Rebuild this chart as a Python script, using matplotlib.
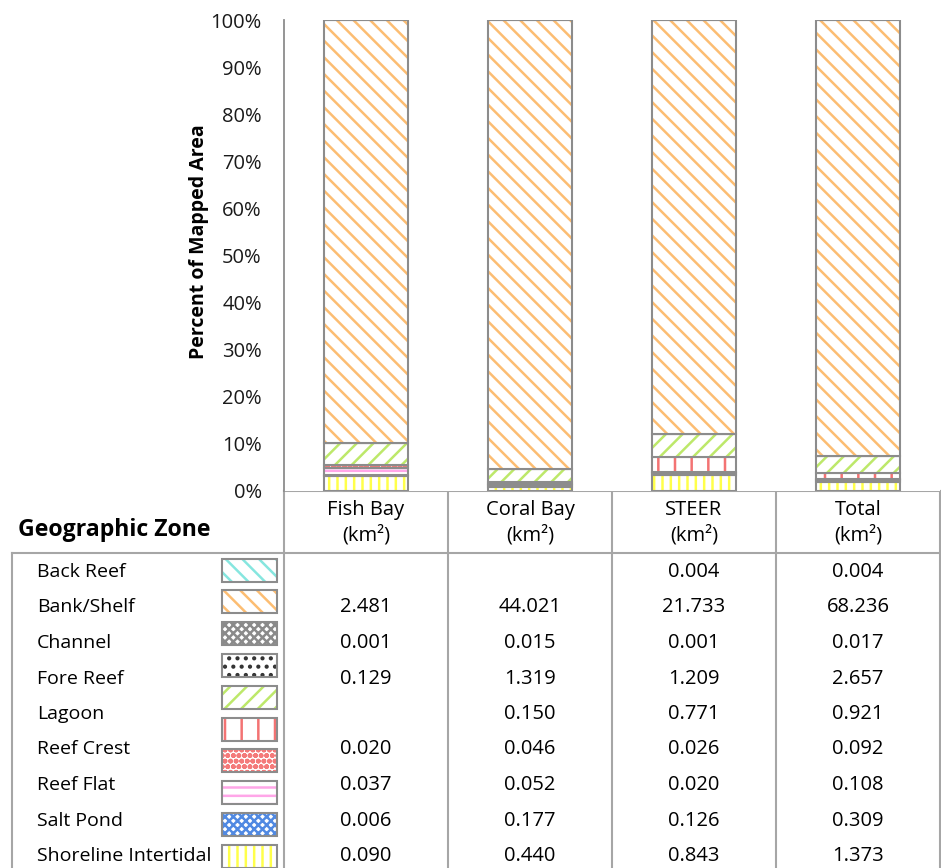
import numpy as np
import matplotlib.pyplot as plt
from matplotlib.patches import Rectangle

plt.rcParams['font.family'] = ['Open Sans', 'DejaVu Sans']
plt.rcParams['hatch.linewidth'] = 1.8

# sites (table columns / bars)
sites = ["Fish Bay", "Coral Bay", "STEER", "Total"]

# area per geographic zone in km², nan = blank cell in the table
zones = ["Back Reef", "Bank/Shelf", "Channel", "Fore Reef", "Lagoon",
         "Reef Crest", "Reef Flat", "Salt Pond", "Shoreline Intertidal"]
back_reef = [np.nan, np.nan, 0.004, 0.004]
bank_shelf = [2.481, 44.021, 21.733, 68.236]
channel = [0.001, 0.015, 0.001, 0.017]
fore_reef = [0.129, 1.319, 1.209, 2.657]
lagoon = [np.nan, 0.150, 0.771, 0.921]
reef_crest = [0.020, 0.046, 0.026, 0.092]
reef_flat = [0.037, 0.052, 0.020, 0.108]
salt_pond = [0.006, 0.177, 0.126, 0.309]
shoreline = [0.090, 0.440, 0.843, 1.373]

pct_ticks = [0, 10, 20, 30, 40, 50, 60, 70, 80, 90, 100]

areas = [back_reef, bank_shelf, channel, fore_reef, lagoon,
         reef_crest, reef_flat, salt_pond, shoreline]

# (hatch colour, hatch) per zone
styles = {
    "Back Reef": ("#86e6df", "\\\\"),
    "Bank/Shelf": ("#fcbd72", "\\\\"),
    "Channel": ("#8a8a8a", "xxxx"),
    "Fore Reef": ("#bde86a", "//"),
    "Lagoon": ("#f37373", "|"),
    "Reef Crest": ("#f47a7a", "ooo"),
    "Reef Flat": ("#ffa6e8", "--"),
    "Salt Pond": ("#5089e2", "xxxx"),
    "Shoreline Intertidal": ("#ffff4a", "||"),
}
# legend keys of the data table (Excel shows one extra dotted key)
keys = [styles["Back Reef"], styles["Bank/Shelf"], styles["Channel"],
        ("#333333", ".."), styles["Fore Reef"], styles["Lagoon"],
        styles["Reef Crest"], styles["Reef Flat"], styles["Salt Pond"],
        styles["Shoreline Intertidal"]]

W, H = 941, 868
GRID = "#a6a6a6"
EDGE = "#8c8c8c"

fig = plt.figure(figsize=(W / 100, H / 100), dpi=100)
ax = fig.add_axes([284 / W, (H - 491) / H, (940 - 284) / W, (491 - 20) / H])

data = np.array(areas, dtype=float)
totals = np.nansum(data, axis=0)
pct = np.nan_to_num(data) / totals * 100

x = np.arange(len(sites))
bottom = np.zeros(len(sites))
for i in reversed(range(len(zones))):
    col, hatch = styles[zones[i]]
    ax.bar(x, pct[i], 0.51, bottom=bottom, color="white", edgecolor=col,
           hatch=hatch, linewidth=0)
    ax.bar(x, pct[i], 0.51, bottom=bottom, fill=False, edgecolor=EDGE,
           linewidth=1.5)
    bottom += pct[i]

ax.set_xlim(-0.5, len(sites) - 0.5)
ax.set_ylim(0, 100)
ax.set_yticks(pct_ticks)
ax.set_yticklabels([f"{t}%" for t in pct_ticks])
ax.set_xticks([])
ax.tick_params(axis="y", length=0, pad=16, labelsize=14.5, labelcolor="#1a1a1a")
for s in ["top", "right", "bottom"]:
    ax.spines[s].set_visible(False)
ax.spines["left"].set_color(EDGE)
ax.spines["left"].set_linewidth(1.3)
ax.set_ylabel("Percent of Mapped Area", fontweight="bold", fontsize=14)
ax.yaxis.set_label_coords(-0.114, 0.529)

# data table drawn in pixel coordinates on an overlay
ov = fig.add_axes([0, 0, 1, 1], zorder=-1)
ov.set_xlim(0, W)
ov.set_ylim(H, 0)
ov.axis("off")

col_edges = np.linspace(284, 940, len(sites) + 1)
ov.plot([284, 940], [491, 491], color=GRID, lw=1.5)
ov.plot([12, 940], [553, 553], color=GRID, lw=1.5)
ov.plot([12, 12], [553, H], color=GRID, lw=1.5)
for xe in col_edges:
    ov.plot([xe, xe], [491, H], color=GRID, lw=1.5)

ov.text(18, 530, "Geographic Zone", fontsize=16.7, fontweight="bold",
        va="center", ha="left")
for j, site in enumerate(sites):
    cx = (col_edges[j] + col_edges[j + 1]) / 2
    ov.text(cx, 510, site, fontsize=14.5, ha="center", va="center")
    ov.text(cx, 535, "(km²)", fontsize=14.5, ha="center", va="center")

for i, zone in enumerate(zones):
    y = 572 + i * 35.5
    ov.text(37, y, zone, fontsize=14, ha="left", va="center")
    for j in range(len(sites)):
        v = areas[i][j]
        if not np.isnan(v):
            cx = (col_edges[j] + col_edges[j + 1]) / 2
            ov.text(cx, y, f"{v:.3f}", fontsize=14.5, ha="center", va="center")

for k, (col, hatch) in enumerate(keys):
    yc = 570 + k * 31.8
    ov.add_patch(Rectangle((222, yc - 11.5), 55, 23, facecolor="white",
                           edgecolor=col, hatch=hatch, linewidth=0))
    ov.add_patch(Rectangle((222, yc - 11.5), 55, 23, fill=False,
                           edgecolor=EDGE, linewidth=1.5))

fig.savefig("out.png", dpi=100)
